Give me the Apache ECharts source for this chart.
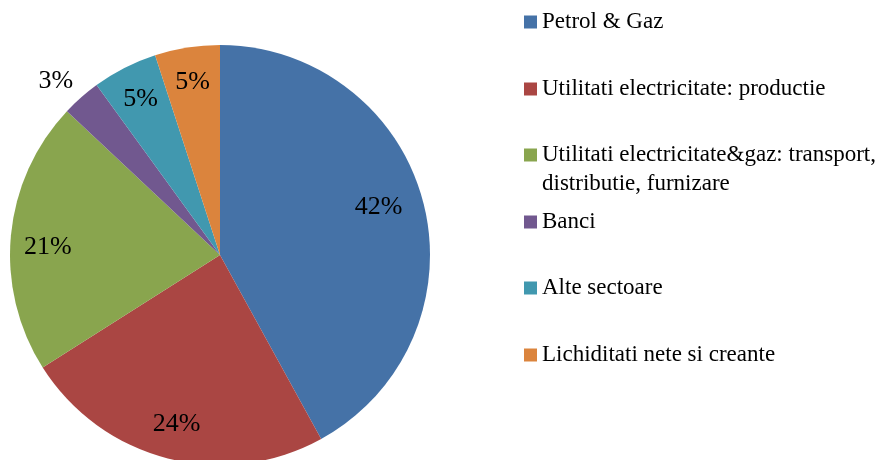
<!DOCTYPE html>
<html>
<head>
<meta charset="utf-8">
<script src="https://cdn.jsdelivr.net/npm/echarts@6/dist/echarts.min.js"></script>
<style>html,body{margin:0;padding:0;background:#fff;}#c{width:882px;height:460px;}</style>
</head>
<body>
<div id="c"></div>
<script>
const categories = ['Petrol & Gaz', 'Utilitati electricitate: productie', 'Utilitati electricitate&gaz: transport, distributie, furnizare', 'Banci', 'Alte sectoare', 'Lichiditati nete si creante'];
const values = [42, 24, 21, 3, 5, 5];
const colors = ['#4572A7', '#AA4643', '#89A54E', '#71588F', '#4198AF', '#DB843D'];

// layout
const CX = 220, CY = 255, R = 210;
const legendCenters = [22, 89, 155, 222, 288, 355];
const FONT = 'Liberation Serif';
const outsideIdx = 3;
const labelNudge = { 0: [-11, -4], 2: [2, 9], 3: [9, -3] };

const pieData = categories.map((n, i) => ({ name: n, value: values[i], itemStyle: { color: colors[i] } }));
const labelData = categories.map((n, i) => {
  const lbl = {};
  if (i === outsideIdx) lbl.position = 'outside';
  if (labelNudge[i]) lbl.offset = labelNudge[i];
  return { name: n, value: values[i], label: lbl };
});

const legends = categories.map((n, i) => {
  const twoLine = n.indexOf('transport, ') >= 0;
  const lh = twoLine ? 29 : 24;
  return {
    orient: 'vertical', left: 524,
    top: twoLine ? legendCenters[i] - 43.5 : legendCenters[i] - 12,
    padding: 0, itemGap: 0, itemWidth: 13, itemHeight: 13, icon: 'rect',
    selectedMode: false,
    data: [n],
    formatter: name => twoLine ? '\n' + name.replace('transport, ', 'transport,\n') : name,
    textStyle: { fontFamily: FONT, fontSize: 23, color: '#000', lineHeight: lh }
  };
});

const chart = echarts.init(document.getElementById('c'));
chart.setOption({
  animation: false,
  legend: legends,
  series: [
    {
      type: 'pie', center: [CX, CY], radius: R, startAngle: 90, clockwise: true,
      label: { show: false }, labelLine: { show: false },
      itemStyle: { borderWidth: 0 },
      emphasis: { disabled: true },
      data: pieData
    },
    {
      type: 'pie', center: [CX, CY], radius: [134, R], startAngle: 90, clockwise: true,
      silent: true, legendHoverLink: false,
      itemStyle: { color: 'rgba(0,0,0,0)', borderWidth: 0 },
      label: { show: true, position: 'inside', formatter: '{c}%', fontFamily: FONT, fontSize: 26, color: '#000' },
      labelLine: { show: false, length: 18, length2: 0 },
      emphasis: { disabled: true },
      data: labelData
    }
  ]
});
</script>
</body>
</html>
